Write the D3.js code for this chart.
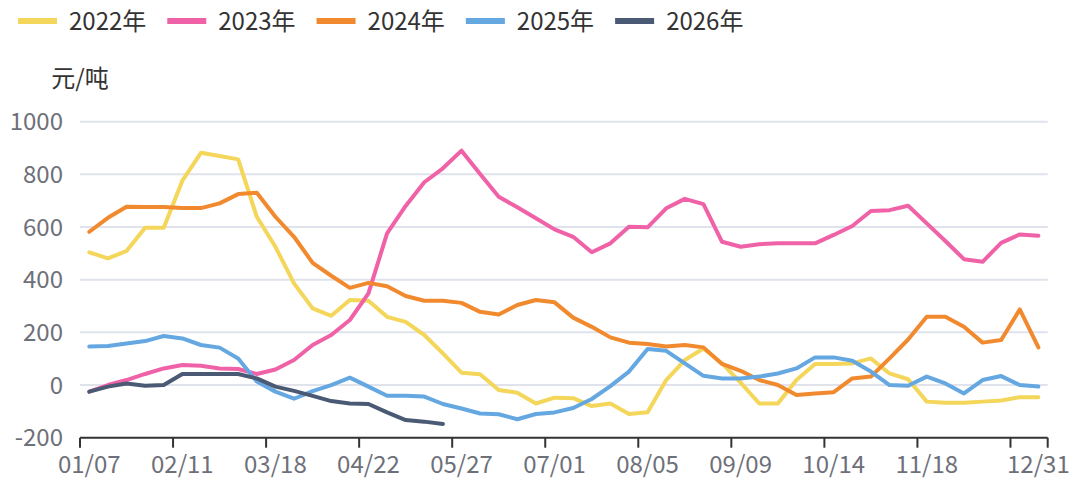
<!DOCTYPE html>
<html><head><meta charset="utf-8">
<script src="https://cdn.jsdelivr.net/npm/d3@7"></script>
<style>html,body{margin:0;padding:0;background:#fff;}svg{display:block;font-family:"Noto Sans CJK SC","Noto Sans",sans-serif;}</style>
</head><body>
<svg id="chart" width="1073" height="480"></svg>
<script>
const categories = ["01/07","01/14","01/21","01/28","02/04","02/11","02/18","02/25","03/04","03/11","03/18","03/25","04/01","04/08","04/15","04/22","04/29","05/06","05/13","05/20","05/27","06/03","06/10","06/17","06/24","07/01","07/08","07/15","07/22","07/29","08/05","08/12","08/19","08/26","09/02","09/09","09/16","09/23","09/30","10/07","10/14","10/21","10/28","11/04","11/11","11/18","11/25","12/02","12/09","12/16","12/23","12/31"];
const shownLabels = ["01/07","02/11","03/18","04/22","05/27","07/01","08/05","09/09","10/14","11/18","12/31"];
const tickCategories = ["01/07","02/11","03/18","04/22","05/27","07/01","08/05","09/09","10/14","11/18","12/23"];
const seriesNames = ["2022年","2023年","2024年","2025年","2026年"];
const yTicks = [-200, 0, 200, 400, 600, 800, 1000];
const unitLabel = "元/吨";

const v2022 = [504,481,509,597,597,776,882,870,857,639,525,386,291,263,323,320,259,240,190,120,47,41,-19,-29,-70,-48,-50,-80,-70,-110,-103,19,95,139,82,9,-70,-70,19,80,80,82,101,44,22,-63,-67,-67,-63,-59,-46,-46];
const v2023 = [-25,0,19,42,63,76,73,63,61,42,59,95,152,190,247,348,576,680,770,823,890,801,715,675,633,591,563,504,538,601,599,671,707,687,544,525,535,538,538,538,570,604,661,664,681,614,547,478,468,540,572,567];
const v2024 = [582,635,677,676,676,672,672,690,725,730,639,563,464,415,369,388,375,338,320,320,312,278,268,304,323,314,256,221,181,161,156,146,152,143,80,54,19,0,-38,-32,-27,25,32,101,173,259,259,221,161,171,287,143];
const v2025 = [146,148,158,167,186,177,152,142,101,13,-25,-52,-23,0,28,-6,-41,-41,-44,-72,-89,-108,-111,-130,-110,-104,-87,-53,-4,51,137,130,82,35,25,25,32,44,63,105,105,92,51,0,-3,32,6,-32,19,34,0,-6];
const v2026 = [-25,-6,6,-3,0,42,42,42,42,25,-6,-22,-41,-61,-70,-72,-104,-133,-139,-148];
const colors = ["#f4d65a","#f062a7","#f18a2e","#65a8e1","#4b5a74"];

const allValues = [v2022, v2023, v2024, v2025, v2026];
const svg = d3.select("#chart");
const plotLeft = 80, plotRight = 1047.7, plotTop = 121.7, plotBottom = 437.7;

const x = d3.scaleBand().domain(categories).range([plotLeft, plotRight]).padding(0);
const y = d3.scaleLinear().domain([-200, 1000]).range([plotBottom, plotTop]);
const cx = c => x(c) + x.bandwidth() / 2;

// grid
svg.append("g").selectAll("line").data(yTicks.filter(t => t !== -200)).join("line")
  .attr("x1", plotLeft).attr("x2", plotRight)
  .attr("y1", d => y(d)).attr("y2", d => y(d))
  .attr("stroke", "#e0e3ec").attr("stroke-width", 2);

// y labels
svg.append("g").selectAll("text").data(yTicks).join("text")
  .attr("x", 63).attr("y", d => y(d) + 8.5)
  .attr("text-anchor", "end").attr("font-size", 24).attr("fill", "#6e7079")
  .text(d => d);

svg.append("text").attr("x", 80).attr("y", 87).attr("text-anchor", "middle")
  .attr("font-size", 24).attr("fill", "#333").text(unitLabel);

// x axis
const xAxis = d3.axisBottom(x).tickValues([]).tickSize(0).tickSizeOuter(0);
const gx = svg.append("g").attr("transform", `translate(0,${plotBottom})`).call(xAxis);
gx.select(".domain").remove();
gx.append("line").attr("x1", plotLeft).attr("x2", plotRight).attr("y1", 0).attr("y2", 0)
  .attr("stroke", "#333").attr("stroke-width", 2);
const tickXs = tickCategories.map(c => x(c)).concat([plotRight]);
gx.selectAll(".tk").data(tickXs).join("line").attr("class", "tk")
  .attr("x1", d => d).attr("x2", d => d).attr("y1", 0).attr("y2", 10)
  .attr("stroke", "#333").attr("stroke-width", 2);
gx.selectAll(".lb").data(shownLabels).join("text").attr("class", "lb")
  .attr("x", d => cx(d)).attr("y", 35)
  .attr("text-anchor", "middle").attr("font-size", 24).attr("fill", "#6e7079")
  .attr("font-family", '"Noto Sans CJK SC","Noto Sans",sans-serif')
  .text(d => d);

// lines
const line = d3.line()
  .defined(d => d.v !== null && d.v !== undefined)
  .x(d => cx(d.c)).y(d => y(d.v));
allValues.forEach((vals, i) => {
  const pts = categories.map((c, j) => ({c, v: j < vals.length ? vals[j] : null}));
  svg.append("path").datum(pts).attr("d", line)
    .attr("fill", "none").attr("stroke", colors[i]).attr("stroke-width", 4)
    .attr("stroke-linejoin", "round").attr("stroke-linecap", "round");
});

// legend
const lg = svg.append("g");
let lx = 18;
seriesNames.forEach((n, i) => {
  lg.append("rect").attr("x", lx).attr("y", 18).attr("width", 39).attr("height", 6)
    .attr("fill", colors[i]);
  const t = lg.append("text").attr("x", lx + 51).attr("y", 30)
    .attr("font-size", 24).attr("fill", "#333").text(n);
  const w = t.node().getComputedTextLength();
  lx += 51 + w + 21;
});
</script>
</body></html>
